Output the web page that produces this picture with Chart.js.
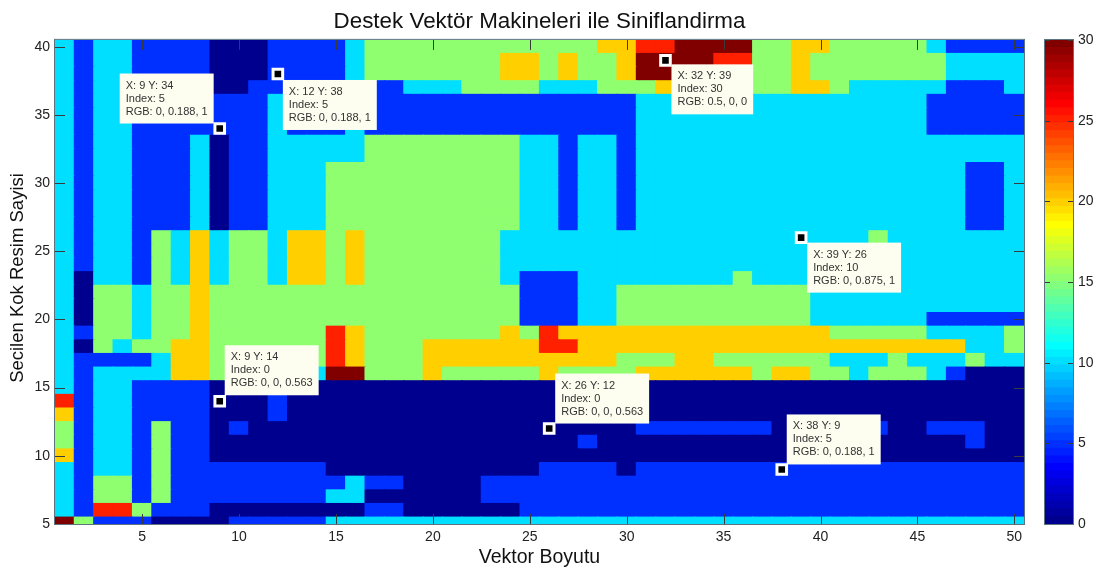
<!DOCTYPE html>
<html>
<head>
<meta charset="utf-8">
<title>Destek Vektör Makineleri ile Siniflandirma</title>
<script src="https://cdn.jsdelivr.net/npm/chart.js@4"></script>
<style>
  html, body { margin: 0; padding: 0; background: #fff; }
  canvas { position: absolute; top: 0; }
  #heat { left: 0; }
  #bar { left: 1040px; }
</style>
</head>
<body>
<canvas id="heat" width="1099" height="569"></canvas>
<canvas id="bar" width="59" height="569"></canvas>
<script>
/* ========= DATA ========= */
const vectorSizes = Array.from({ length: 50 }, (_, i) => i + 1);
const xTickValues = [5, 10, 15, 20, 25, 30, 35, 40, 45, 50];
const yTickValues = [5, 10, 15, 20, 25, 30, 35, 40];
const barTickValues = [0, 5, 10, 15, 20, 25, 30];

// one row per "Secilen Kok Resim Sayisi" value, columns are vector size 1..50
const y40 = [10,5,10,10,5,5,5,5,0,0, 0,5,5,5,5,10,15,15,15,15, 15,15,15,15,15,15,15,15,20,20, 25,25,30,30,30,30,15,15,20,20, 15,15,15,15,15,10,5,5,5,5];
const y39 = [10,5,10,10,5,5,5,5,0,0, 0,5,5,5,5,10,15,15,15,15, 15,15,15,20,20,15,20,15,15,20, 30,30,30,30,25,25,15,15,20,15, 15,15,15,15,15,15,10,10,10,10];
const y38 = [10,5,10,10,5,5,5,5,0,0, 0,5,5,5,5,10,15,15,15,15, 15,15,15,20,20,15,20,15,15,20, 30,30,15,15,15,15,15,15,20,15, 15,15,15,15,15,15,10,10,10,10];
const y37 = [10,5,10,10,5,5,5,5,0,0, 5,5,5,5,5,10,5,5,10,10, 10,15,15,15,15,10,10,10,15,15, 15,20,15,15,15,15,15,15,20,20, 15,10,10,10,10,10,5,5,5,10];
const y36 = [10,5,10,10,5,5,5,5,5,5, 5,10,5,5,5,10,5,5,5,5, 5,5,5,5,5,5,5,5,5,5, 10,10,10,10,10,10,10,10,10,10, 10,10,10,10,10,5,5,5,5,5];
const y35 = y36;
const y34 = y36;
const y33 = [10,5,10,10,5,5,5,10,0,5, 5,10,10,10,10,10,15,15,15,15, 15,15,15,15,10,10,5,10,10,5, 10,10,10,10,10,10,10,10,10,10, 10,10,10,10,10,10,10,10,10,10];
const y32 = y33;
const y31 = [10,5,10,10,5,5,5,10,0,5, 5,10,10,10,15,15,15,15,15,15, 15,15,15,15,10,10,5,10,10,5, 10,10,10,10,10,10,10,10,10,10, 10,10,10,10,10,10,10,5,5,10];
const y30 = y31;
const y29 = y31;
const y28 = y31;
const y27 = y31;
const y26 = [10,5,10,10,5,15,10,20,10,15, 15,10,20,20,15,20,15,15,15,15, 15,15,15,10,10,10,10,10,10,10, 10,10,10,10,10,10,10,10,10,10, 10,10,15,10,10,10,10,10,10,10];
const y25 = [10,5,10,10,5,15,10,20,10,15, 15,10,20,20,15,20,15,15,15,15, 15,15,15,10,10,10,10,10,10,10, 10,10,10,10,10,10,10,10,10,10, 10,10,10,10,10,10,10,10,10,10];
const y24 = y25;
const y23 = [10,0,10,10,5,15,10,20,10,15, 15,10,20,20,15,20,15,15,15,15, 15,15,15,10,5,5,5,10,10,10, 10,10,10,10,10,15,10,10,10,10, 10,10,10,10,10,10,10,10,10,10];
const y22 = [10,0,15,15,10,15,15,20,15,15, 15,15,15,15,15,15,15,15,15,15, 15,15,15,15,5,5,5,10,10,15, 15,15,15,15,15,15,15,15,15,10, 10,10,10,10,10,10,10,10,10,10];
const y21 = y22;
const y20 = [10,0,15,15,10,15,15,20,15,15, 15,15,15,15,15,15,15,15,15,15, 15,15,15,15,5,5,5,10,10,15, 15,15,15,15,15,15,15,15,15,10, 10,10,10,10,10,5,5,5,5,5];
const y19 = [10,5,15,15,10,15,15,20,15,15, 15,15,15,15,25,20,15,15,15,15, 15,15,15,20,15,25,20,20,20,20, 20,20,20,20,20,20,20,20,20,20, 15,15,15,15,15,10,10,10,10,15];
const y18 = [10,0,15,10,15,15,20,20,15,15, 15,15,15,15,25,20,15,15,15,20, 20,20,20,20,20,25,25,20,20,20, 20,20,20,20,20,20,20,20,20,20, 20,20,20,20,20,20,20,10,10,15];
const y17 = [10,5,5,5,5,10,20,20,15,15, 15,15,15,15,25,20,15,15,15,20, 20,20,20,20,20,20,20,20,20,15, 15,15,20,20,15,15,15,15,15,15, 10,10,10,15,10,10,10,15,10,10];
const y16 = [10,5,10,10,10,10,20,20,15,15, 15,15,15,10,30,30,15,15,15,20, 15,15,15,15,15,20,15,15,15,15, 20,20,20,20,20,20,15,20,20,15, 15,10,15,15,15,10,5,0,0,0];
const y15 = [10,5,10,10,5,5,5,5,0,0, 0,0,0,0,0,0,0,0,0,0, 0,0,0,0,0,0,0,0,0,0, 0,0,0,0,0,0,0,0,0,0, 0,0,0,0,0,0,0,0,0,0];
const y14 = [25,5,10,10,5,5,5,5,0,0, 0,5,0,0,0,0,0,0,0,0, 0,0,0,0,0,0,0,0,0,0, 0,0,0,0,0,0,0,0,0,0, 0,0,0,0,0,0,0,0,0,0];
const y13 = [20,5,10,10,5,5,5,5,0,0, 0,5,0,0,0,0,0,0,0,0, 0,0,0,0,0,0,0,0,0,0, 0,0,0,0,0,0,0,0,0,0, 0,0,0,0,0,0,0,0,0,0];
const y12 = [15,5,10,10,5,15,5,5,0,5, 0,0,0,0,0,0,0,0,0,0, 0,0,0,0,0,0,0,0,0,0, 5,5,5,5,5,5,5,0,0,0, 0,0,5,0,0,5,5,5,0,0];
const y11 = [15,5,10,10,5,15,5,5,0,0, 0,0,0,0,0,0,0,0,0,0, 0,0,0,0,0,0,0,5,0,0, 0,0,0,0,0,0,0,0,0,0, 0,0,0,0,0,0,0,5,0,0];
const y10 = [20,5,10,10,5,15,5,5,0,0, 0,0,0,0,0,0,0,0,0,0, 0,0,0,0,0,0,0,0,0,0, 0,0,0,0,0,0,0,0,0,0, 0,0,0,0,0,0,0,0,0,0];
const y9 = [10,5,10,10,5,15,5,5,5,5, 5,5,5,5,0,0,0,0,0,0, 0,0,0,0,0,5,5,5,5,0, 5,5,5,5,5,5,5,5,5,5, 5,5,5,5,5,5,5,5,5,5];
const y8 = [10,5,15,15,5,15,5,5,5,5, 5,5,5,5,5,10,5,5,0,0, 0,0,5,5,5,5,5,5,5,5, 5,5,5,5,5,5,5,5,5,5, 5,5,5,5,5,5,5,5,5,5];
const y7 = [10,5,15,15,5,15,5,5,5,5, 5,5,5,5,10,10,0,0,0,0, 0,0,5,5,5,5,5,5,5,5, 5,5,5,5,5,5,5,5,5,5, 5,5,5,5,5,5,5,5,5,5];
const y6 = [10,5,25,25,15,5,5,5,0,0, 0,0,0,0,0,0,5,5,0,0, 0,0,0,0,5,5,5,5,5,5, 5,5,5,5,5,5,5,5,5,5, 5,5,5,5,5,5,5,5,5,5];
const y5 = [30,15,5,5,5,0,0,0,0,5, 5,5,5,5,10,10,10,10,10,10, 10,10,10,10,10,10,10,10,10,10, 10,10,10,10,10,10,10,10,10,10, 10,10,10,10,10,10,10,10,10,10];

const rowLabels = [5,6,7,8,9,10,11,12,13,14,15,16,17,18,19,20,21,22,23,24,25,26,27,28,29,30,31,32,33,34,35,36,37,38,39,40];
const rowValues = [y5,y6,y7,y8,y9,y10,y11,y12,y13,y14,y15,y16,y17,y18,y19,y20,y21,y22,y23,y24,y25,y26,y27,y28,y29,y30,y31,y32,y33,y34,y35,y36,y37,y38,y39,y40];

// data tips
const tipX = [9, 12, 32, 39, 9, 26, 38];
const tipY = [34, 38, 39, 26, 14, 12, 9];
const tipIndex = [5, 5, 30, 10, 0, 0, 5];
const tipRgb = ['0, 0.188, 1', '0, 0.188, 1', '0.5, 0, 0', '0, 0.875, 1', '0, 0, 0.563', '0, 0, 0.563', '0, 0.188, 1'];

/* ========= HELPERS ========= */
const byId = id => document.getElementById(id);
const clamp01 = v => Math.max(0, Math.min(1, v));

// MATLAB jet(64), i = 1..64
function jet(i) {
  const x = i / 64;
  const r = clamp01(Math.min(4 * x - 1.5, 4.5 - 4 * x));
  const g = clamp01(Math.min(4 * x - 0.5, 3.5 - 4 * x));
  const b = clamp01(Math.min(4 * x + 0.5, 2.5 - 4 * x));
  return `rgb(${Math.round(r * 255)},${Math.round(g * 255)},${Math.round(b * 255)})`;
}
const valueColor = v => jet(Math.min(64, Math.floor(v / 30 * 64) + 1));

const FONT = 'Arial, "Liberation Sans", sans-serif';
const TICK_COLOR = '#3a3a3a';
const FRAME_COLOR = '#5b7480';

// tip box offset from the marker, px
const tipOffsets = [[-100, -55], [5, 6], [6, 4], [6, 5], [5, -56], [6, -55], [5, -55]];

// MATLAB style ticks pointing into the plot, on all four sides
function inwardTicks(chart, xValues, yValues, len) {
  const { ctx, chartArea: a, scales } = chart;
  ctx.save();
  ctx.strokeStyle = TICK_COLOR;
  ctx.lineWidth = 1;
  ctx.beginPath();
  if (xValues) {
    xValues.forEach(v => {
      const px = Math.round(scales.x.getPixelForValue(v - 1)) + 0.5;
      ctx.moveTo(px, a.top); ctx.lineTo(px, a.top + len);
      ctx.moveTo(px, a.bottom); ctx.lineTo(px, a.bottom - len);
    });
  }
  yValues.forEach(v => {
    const py = Math.round(scales.y.getPixelForValue(v)) + 0.5;
    ctx.moveTo(a.left, py); ctx.lineTo(a.left + len, py);
    ctx.moveTo(a.right, py); ctx.lineTo(a.right - len, py);
  });
  ctx.stroke();
  ctx.strokeStyle = FRAME_COLOR;
  ctx.strokeRect(a.left - 0.5, a.top - 0.5, a.right - a.left + 1, a.bottom - a.top + 1);
  ctx.restore();
}

const heatDecor = {
  id: 'heatDecor',
  afterDatasetsDraw(chart) {
    inwardTicks(chart, xTickValues, yTickValues, 10);
    const { ctx, scales } = chart;
    ctx.save();
    ctx.font = `11px ${FONT}`;
    ctx.textBaseline = 'middle';
    tipX.forEach((x, i) => {
      const lines = [`X: ${x} Y: ${tipY[i]}`, `Index: ${tipIndex[i]}`, `RGB: ${tipRgb[i]}`];
      const left = scales.x.getPixelForValue(x - 1) + tipOffsets[i][0];
      const top = scales.y.getPixelForValue(tipY[i]) + tipOffsets[i][1];
      const w = Math.max(...lines.map(l => ctx.measureText(l).width)) + 12;
      ctx.fillStyle = '#fdfdf0';
      ctx.fillRect(left, top, w, 50);
      ctx.fillStyle = '#333';
      lines.forEach((l, k) => ctx.fillText(l, left + 6, top + 12 + k * 13));
    });
    ctx.restore();

    // y axis title sits a little above the plot centre in the original
    ctx.save();
    ctx.translate(18, 278);
    ctx.rotate(-Math.PI / 2);
    ctx.font = `18.5px ${FONT}`;
    ctx.fillStyle = '#111';
    ctx.textAlign = 'center';
    ctx.textBaseline = 'middle';
    ctx.fillText('Secilen Kok Resim Sayisi', 0, 0);
    ctx.restore();
  }
};

/* ========= MAIN CHART ========= */
const heatSets = rowLabels.map((y, r) => ({
  type: 'bar',
  order: 2,
  data: vectorSizes.map(() => [y - 0.5, y + 0.5]),
  backgroundColor: rowValues[r].map(valueColor),
  borderWidth: 0,
  inflateAmount: 0.6,
  grouped: false,
  barPercentage: 1,
  categoryPercentage: 1
}));

const tipSet = {
  type: 'line',
  order: 1,
  showLine: false,
  data: tipX.map((x, i) => ({ x: String(x), y: tipY[i] })),
  pointStyle: 'rect',
  pointRadius: 6.8,
  pointBorderWidth: 3,
  pointBackgroundColor: '#000',
  pointBorderColor: '#fff'
};

new Chart(byId('heat'), {
  data: { labels: vectorSizes.map(String), datasets: [...heatSets, tipSet] },
  options: {
    responsive: false,
    animation: false,
    layout: { padding: { right: 75 } },
    plugins: {
      legend: { display: false },
      tooltip: { enabled: false },
      title: {
        display: true,
        fullSize: false,
        text: 'Destek Vektör Makineleri ile Siniflandirma',
        color: '#111',
        font: { family: FONT, size: 22.4, weight: 'normal' },
        padding: { top: 8, bottom: 5 }
      }
    },
    scales: {
      x: {
        type: 'category',
        offset: true,
        grid: { display: false, drawTicks: false, tickLength: 0 },
        border: { display: false },
        afterFit: s => { s.height = 45; },
        ticks: {
          autoSkip: false,
          maxRotation: 0,
          color: '#222',
          padding: 5,
          font: { family: FONT, size: 14 },
          callback(v, i) { return xTickValues.includes(i + 1) ? String(i + 1) : ''; }
        },
        title: {
          display: true,
          text: 'Vektor Boyutu',
          color: '#111',
          padding: { top: 0, bottom: 0 },
          font: { family: FONT, size: 19.5 }
        }
      },
      y: {
        type: 'linear',
        min: 5,
        max: 40.5,
        grid: { display: false, drawTicks: false, tickLength: 0 },
        border: { display: false },
        afterFit: s => { s.width = 55; },
        afterBuildTicks: s => { s.ticks = yTickValues.map(v => ({ value: v })); },
        ticks: {
          color: '#222',
          padding: 5,
          font: { family: FONT, size: 14 }
        }
      }
    }
  },
  plugins: [heatDecor]
});

/* ========= COLORBAR ========= */
const barSteps = Array.from({ length: 64 }, (_, i) => i);

new Chart(byId('bar'), {
  type: 'bar',
  data: {
    labels: ['c'],
    datasets: barSteps.map(i => ({
      data: [[i * 30 / 64, (i + 1) * 30 / 64]],
      backgroundColor: jet(i + 1),
      borderWidth: 0,
      inflateAmount: 0.6,
      grouped: false,
      barPercentage: 1,
      categoryPercentage: 1
    }))
  },
  options: {
    responsive: false,
    animation: false,
    layout: { padding: { left: 5, top: 40, bottom: 45 } },
    plugins: { legend: { display: false }, tooltip: { enabled: false } },
    scales: {
      x: { display: false },
      y: {
        position: 'right',
        min: 0,
        max: 30,
        grid: { display: false, drawTicks: false, tickLength: 0 },
        border: { display: false },
        afterFit: s => { s.width = 26; },
        afterBuildTicks: s => { s.ticks = barTickValues.map(v => ({ value: v })); },
        ticks: {
          color: '#222',
          padding: 5,
          font: { family: FONT, size: 14 }
        }
      }
    }
  },
  plugins: [{
    id: 'barDecor',
    afterDatasetsDraw(chart) { inwardTicks(chart, null, barTickValues, 5); }
  }]
});
</script>
</body>
</html>
